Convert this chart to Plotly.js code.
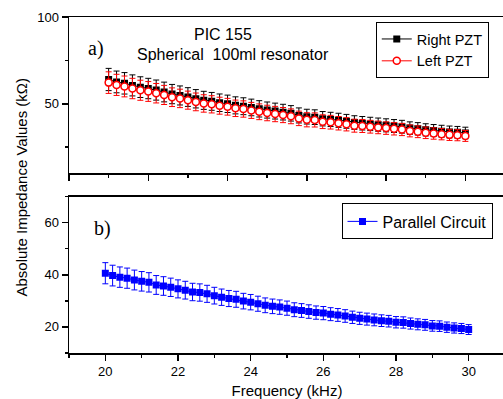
<!DOCTYPE html>
<html>
<head>
<meta charset="utf-8">
<script src="https://cdn.plot.ly/plotly-3.0.1.min.js"></script>
<style>html,body{margin:0;padding:0;overflow:hidden;background:#fff}</style>
</head>
<body>
<div id="chart"></div>
<script>
// ---- data ----
const freqTop = [20.0,20.2,20.4,20.6,20.8,21.0,21.2,21.4,21.6,21.8,22.0,22.2,22.4,22.6,22.8,23.0,23.2,23.4,23.6,23.8,24.0,24.2,24.4,24.6,24.8,25.0,25.2,25.4,25.6,25.8,26.0,26.2,26.4,26.6,26.8,27.0,27.2,27.4,27.6,27.8,28.0,28.2,28.4,28.6,28.8,29.0];
const rightPZT = [64.0,62.6,61.8,60.6,59.6,58.8,57.9,56.8,55.6,54.8,53.9,52.9,52.0,51.4,50.6,50.0,49.1,48.6,47.9,47.1,46.4,45.8,45.2,44.5,43.3,42.6,42.3,41.4,41.0,40.5,39.9,39.2,38.8,38.4,38.0,37.6,37.2,36.8,36.0,35.6,35.0,34.6,34.2,33.8,33.6,33.2];
const leftPZT = [62.2,60.9,60.0,58.8,57.8,57.1,56.1,55.1,53.8,53.1,52.1,51.1,50.2,49.7,48.9,48.3,47.4,47.0,46.2,45.4,44.7,44.1,43.5,42.8,41.6,40.8,40.7,39.7,39.4,38.8,38.2,37.4,37.2,36.8,36.4,36.0,35.6,35.2,34.4,33.9,33.3,32.9,32.5,32.1,31.9,31.5];
const freqBottom = [20.0,20.2,20.4,20.6,20.8,21.0,21.2,21.4,21.6,21.8,22.0,22.2,22.4,22.6,22.8,23.0,23.2,23.4,23.6,23.8,24.0,24.2,24.4,24.6,24.8,25.0,25.2,25.4,25.6,25.8,26.0,26.2,26.4,26.6,26.8,27.0,27.2,27.4,27.6,27.8,28.0,28.2,28.4,28.6,28.8,29.0,29.2,29.4,29.6,29.8,30.0];
const parallelCircuit = [40.6,39.7,39.1,38.7,38.0,37.5,37.1,36.1,35.7,35.2,34.6,34.1,33.4,33.2,32.7,32.0,31.4,30.9,30.6,29.9,29.5,28.9,28.3,27.9,27.6,27.2,26.6,26.3,25.9,25.5,25.3,24.9,24.6,24.2,23.7,23.3,23.0,22.7,22.4,22.2,21.8,21.7,21.3,21.0,20.8,20.4,20.3,19.9,19.6,19.4,19.0];
const errorPercent = 10;
const seriesNames = ['Right PZT', 'Left PZT', 'Parallel Circuit'];
const xTitle = 'Frequency (kHz)';
const yTitle = 'Absolute Impedance Values (k\u03A9)';
const panelText = ['PIC 155', 'Spherical\u00a0\u00a0100ml resonator', 'a)', 'b)'];

const SANS = 'Liberation Sans, Arial, sans-serif';
const SERIF = 'Liberation Serif, Times New Roman, serif';

function err(color) {
  return {type:'percent', value:errorPercent, visible:true, color:color, thickness:1, width:3};
}

const traces = [
  {x:freqTop, y:rightPZT, name:seriesNames[0], xaxis:'x2', yaxis:'y2', legend:'legend',
   mode:'lines+markers', line:{color:'black', width:1},
   marker:{symbol:'square', size:7, color:'black'}, error_y:err('black')},
  {x:freqTop, y:leftPZT, name:seriesNames[1], xaxis:'x2', yaxis:'y2', legend:'legend',
   mode:'lines+markers', line:{color:'red', width:1},
   marker:{symbol:'circle', size:7, color:'white', line:{color:'red', width:1.5}}, error_y:err('red')},
  {x:freqBottom, y:parallelCircuit, name:seriesNames[2], xaxis:'x', yaxis:'y', legend:'legend2',
   mode:'lines+markers', line:{color:'#0000ff', width:1},
   marker:{symbol:'square', size:7, color:'#0000ff'}, error_y:err('#0000ff')}
];

const base = {showline:true, linecolor:'black', linewidth:1.5, mirror:true,
  ticks:'outside', ticklen:6, tickwidth:1.5, tickcolor:'black',
  showgrid:false, zeroline:false, fixedrange:true,
  tickfont:{family:SANS, size:13, color:'black'}};
function minor(dt, dir) { return {ticks:dir, ticklen:3, tickwidth:1.5, tickcolor:'black', dtick:dt, showgrid:false}; }
function over(extra) {
  return Object.assign({showline:false, ticks:'inside', ticklen:6, tickwidth:1.5, tickcolor:'black',
    showgrid:false, zeroline:false, showticklabels:false, fixedrange:true}, extra);
}
function note(text, x, y, family, size, extra) {
  return Object.assign({text:text, xref:'paper', yref:'paper', x:x, y:y, xanchor:'center', yanchor:'middle',
    showarrow:false, font:{family:family, size:size, color:'black'}}, extra || {});
}

const layout = {
  width:508, height:399,
  margin:{l:69, r:3, t:17, b:46, pad:0},
  paper_bgcolor:'white', plot_bgcolor:'white',
  showlegend:true,
  font:{family:SANS, color:'black'},
  xaxis: Object.assign({}, base, {domain:[0,1], anchor:'y', range:[19,31], tick0:20, dtick:2,
    minor:minor(1,'outside'),
    title:{text:xTitle, font:{family:SANS, size:15, color:'black'}, standoff:8}}),
  yaxis: Object.assign({}, base, {domain:[0,0.4655], anchor:'x', range:[10,70], tick0:0, dtick:20,
    minor:minor(10,'outside')}),
  xaxis2: Object.assign({}, base, {domain:[0,1], anchor:'y2', range:[19,30], tick0:19, dtick:2,
    minor:minor(1,'outside'), showticklabels:false}),
  yaxis2: Object.assign({}, base, {domain:[0.535,1], anchor:'x2', range:[10,100], tick0:0, dtick:50,
    minor:minor(25,'outside')}),
  xaxis3: over({overlaying:'x', anchor:'y', side:'top', range:[19,31], tick0:20, dtick:2, minor:minor(1,'inside')}),
  yaxis3: over({overlaying:'y', anchor:'x', side:'right', range:[10,70], tick0:0, dtick:20, minor:minor(10,'inside')}),
  xaxis4: over({overlaying:'x2', anchor:'y2', side:'top', range:[19,30], tick0:19, dtick:2, minor:minor(1,'inside')}),
  yaxis4: over({overlaying:'y2', anchor:'x2', side:'right', range:[10,100], tick0:0, dtick:50, minor:minor(25,'inside')}),
  legend:{x:0.7036, y:0.985, xanchor:'left', yanchor:'top', bgcolor:'white', bordercolor:'black', borderwidth:1,
    font:{family:SANS, size:14.5, color:'black'}, traceorder:'normal', tracegroupgap:0},
  legend2:{x:0.625, y:0.445, xanchor:'left', yanchor:'top', bgcolor:'white', bordercolor:'black', borderwidth:1,
    font:{family:SANS, size:16, color:'black'}},
  annotations:[
    note(panelText[0], 0.353, 0.949, SANS, 16),
    note(panelText[1], 0.375, 0.887, SANS, 16),
    note(panelText[2], 0.063, 0.906, SERIF, 20),
    note(panelText[3], 0.077, 0.372, SERIF, 20),
    note(yTitle, -0.110, 0.4926, SANS, 15, {textangle:-90})
  ]
};

Plotly.newPlot('chart', traces, layout, {displayModeBar:false, staticPlot:true});
</script>
</body>
</html>
